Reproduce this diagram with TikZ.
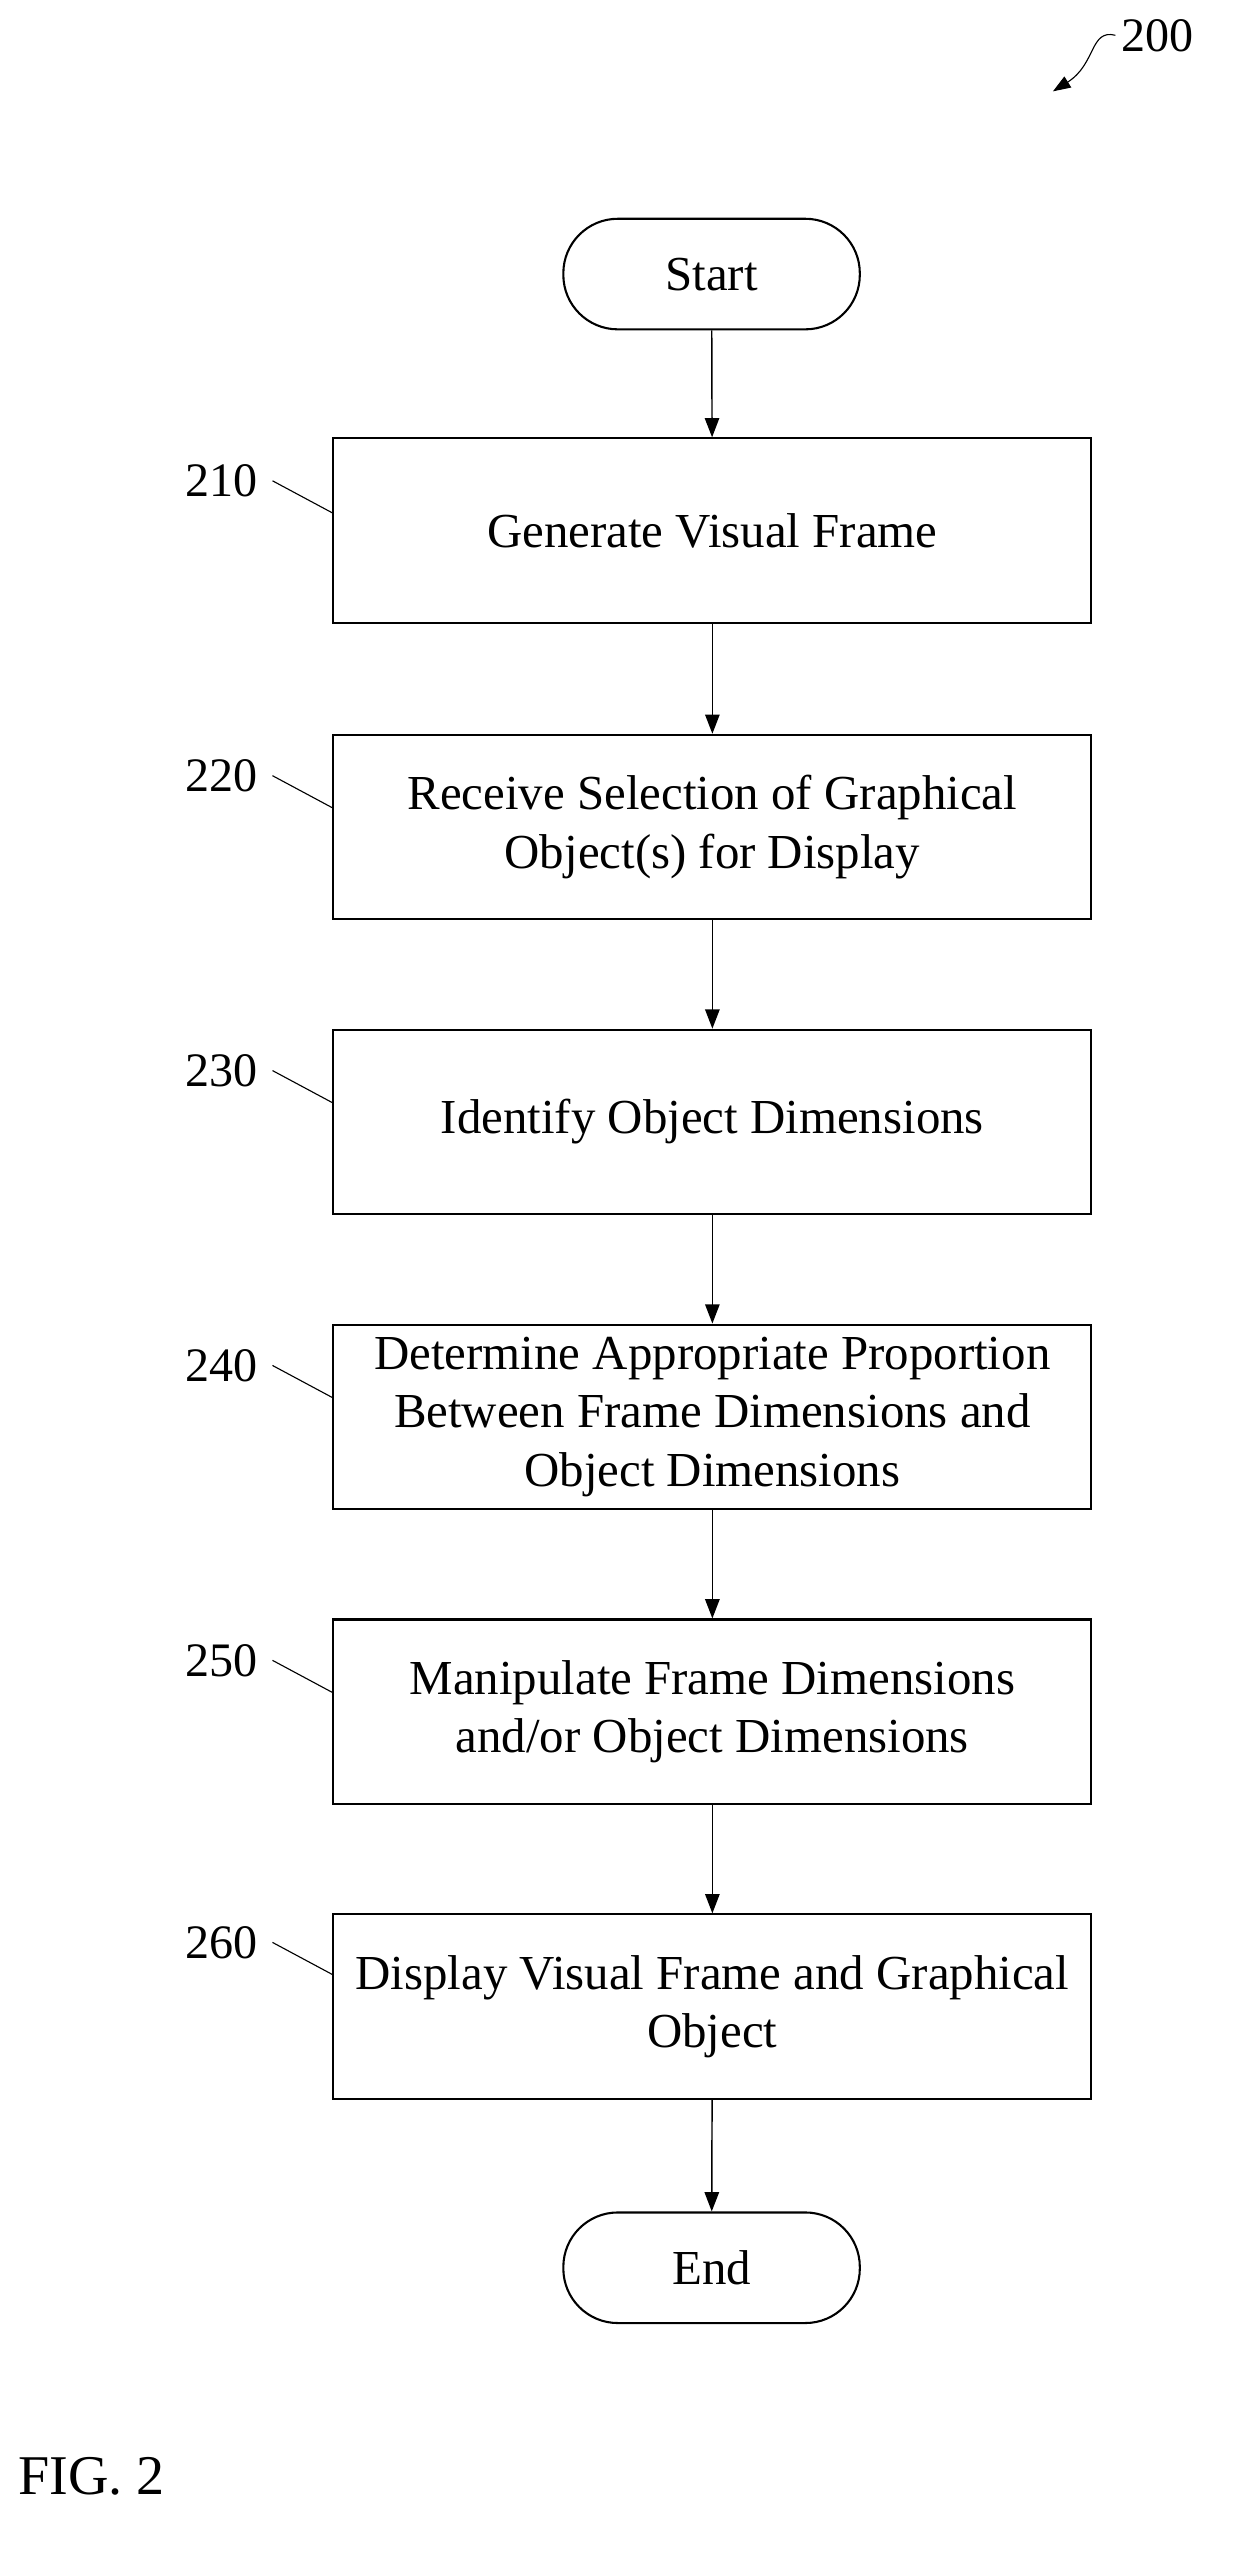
\documentclass[tikz,border=0pt]{standalone}
\usepackage{fontspec}
\setmainfont{Liberation Serif}
\usetikzlibrary{positioning,arrows.meta}
\tikzset{
  stage/.style={draw, line width=1.3pt, minimum width=473pt, minimum height=115pt, align=center, font=\fontsize{30.5}{36.5}\selectfont},
  term/.style={draw, line width=1.3pt, rounded corners=34pt, minimum width=185pt, minimum height=69pt, font=\fontsize{30.5}{36}\selectfont},
  flow/.style={line width=0.9pt, -{Triangle[length=12pt,width=9pt]}},
  lead/.style={line width=0.7pt},
  tag/.style={font=\fontsize{30}{36}\selectfont}
}
\begin{document}
\begin{tikzpicture}[x=1pt,y=-1pt]
    \useasboundingbox (0,0) rectangle (770,1593);

    \node[term] (start) at (444,171) {Start};
    \node[stage] (s210) at (444.5,331) {Generate Visual Frame};
    \node[stage] (s220) at (444.5,516) {Receive Selection of Graphical\\Object(s) for Display};
    \node[stage] (s230) at (444.5,700) {Identify Object Dimensions};
    \node[stage] (s240) at (444.5,884) {Determine Appropriate Proportion\\Between Frame Dimensions and\\Object Dimensions};
    \node[stage] (s250) at (444.5,1068) {Manipulate Frame Dimensions\\and/or Object Dimensions};
    \node[stage] (s260) at (444.5,1252) {Display Visual Frame and Graphical\\Object};
    \node[term] (end) at (444,1415) {End};

    \draw[flow] (start) -- (s210);
    \draw[flow] (s210) -- (s220);
    \draw[flow] (s220) -- (s230);
    \draw[flow] (s230) -- (s240);
    \draw[flow] (s240) -- (s250);
    \draw[flow] (s250) -- (s260);
    \draw[flow] (s260) -- (end);

    % reference numerals
    \foreach \n/\y in {210/300, 220/484, 230/668, 240/852, 250/1036, 260/1212} {
        \node[tag] (l\n) at (138,\y) {\n};
        \draw[lead] (l\n.east) ++(6,0) coordinate (a\n) -- ([yshift=-20pt]a\n -| s\n.west);
    }

    \node[tag] (fig) at (722,22) {200};
    \coordinate (tip) at (657,57);
    \draw[lead, -{Triangle[length=11pt,width=8pt]}] (fig.west) .. controls (680,18) and (684,40) .. (tip);

    \node[font=\fontsize{35}{40}\selectfont, anchor=west] (caption) at (8,1545) {FIG. 2};
\end{tikzpicture}
\end{document}
